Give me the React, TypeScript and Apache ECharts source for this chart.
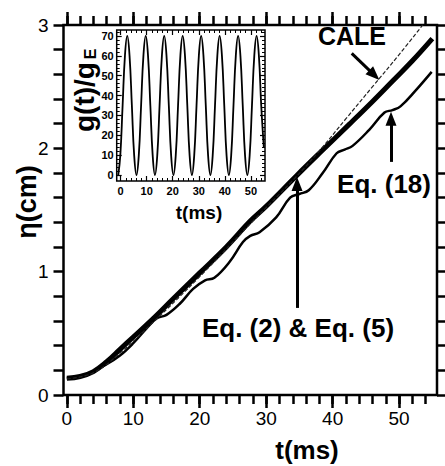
import React, { useEffect, useRef } from 'react';
import * as echarts from 'echarts';

const FONT = 'Liberation Sans, Arial, Helvetica, sans-serif';

// ---- axis ranges / tick steps ----
const mainXRange = [-0.5, 55.7];
const mainYRange = [0, 3];
const mainXMajorRange = [0, 50];
const mainXMinorRange = [0, 54];
const mainXMajorStep = 10;
const mainXMinorStep = 2;
const mainYMinorStep = 0.2;
const insetXRange = [-1.5, 55.4];
const insetYRange = [-3, 73];
const insetXMajorRange = [0, 50];
const insetXMinorRange = [0, 54];
const insetYMajorRange = [0, 70];
const insetYMinorRange = [0, 72];
const insetXMajorStep = 10;
const insetXMinorStep = 2;
const insetYMajorStep = 10;
const insetYMinorStep = 2;

// ---- main series: eta (cm) vs t (ms) ----
const eq25T = [0, 2, 4, 6, 8, 10, 13, 16, 20, 24, 27.6, 30, 34.6, 38, 42.6, 46, 49.1, 52, 55];
const eq25Eta = [0.135, 0.15, 0.19, 0.27, 0.37, 0.47, 0.62, 0.78, 0.99, 1.2, 1.41, 1.53, 1.78, 1.96, 2.2, 2.38, 2.55, 2.71, 2.89];

const caleT = [0, 4, 8, 13, 20, 28, 34, 38, 42, 46, 50, 53.7];
const caleEta = [0.13, 0.18, 0.34, 0.59, 0.96, 1.41, 1.74, 1.98, 2.24, 2.5, 2.76, 3.01];

const eq18T = [0, 3, 6, 8, 10, 12, 13.5, 15, 17, 19, 20.8, 22.2, 24.5, 26.5, 27.6, 29, 31.5, 33.6, 35, 36.4, 38.5, 40.6, 41.8, 43, 45.5, 47.8, 49, 50.2, 52.5, 54.9];
const eq18Eta = [0.135, 0.17, 0.25, 0.32, 0.42, 0.54, 0.62, 0.65, 0.74, 0.86, 0.93, 0.95, 1.08, 1.24, 1.29, 1.32, 1.44, 1.6, 1.63, 1.66, 1.8, 1.96, 1.99, 2.02, 2.15, 2.29, 2.31, 2.34, 2.47, 2.62];

// ---- inset series: g(t)/gE vs t (ms) ----
const gT = [-0.9, -0.11, 0.77, 1.66, 2.55, 3.43, 4.32, 5.2, 6.09, 6.98, 7.86, 8.75, 9.64, 10.52, 11.41, 12.3, 13.18, 14.07, 14.95, 15.84, 16.73, 17.61, 18.5, 19.38, 20.27, 21.16, 22.04, 22.93, 23.81, 24.7, 25.59, 26.47, 27.36, 28.25, 29.13, 30.02, 30.9, 31.79, 32.68, 33.56, 34.45, 35.34, 36.22, 37.11, 37.99, 38.88, 39.77, 40.65, 41.54, 42.43, 43.31, 44.2, 45.08, 45.97, 46.86, 47.74, 48.63, 49.52, 50.4, 51.29, 52.17, 53.06, 53.95, 54.95];
const gVal = [0, 10, 35, 60, 70, 60, 35, 10, 0, 10, 35, 60, 70, 60, 35, 10, 0, 10, 35, 60, 70, 60, 35, 10, 0, 10, 35, 60, 70, 60, 35, 10, 0, 10, 35, 60, 70, 60, 35, 10, 0, 10, 35, 60, 70, 60, 35, 10, 0, 10, 35, 60, 70, 60, 35, 10, 0, 10, 35, 60, 70, 60, 35, 14];

// ---- annotation arrows (data coordinates: [t, eta] start -> end) ----
const arrowCale = [[42.87, 2.77], [46.27, 2.594]];
const arrowEq18 = [[48.78, 1.89], [48.78, 2.24]];
const arrowEq25 = [[34.64, 0.706], [34.64, 1.71]];

const pairs = (xs: number[], ys: number[]) => xs.map((x, i) => [x, ys[i]]);

// main plot pixel mapping (only used to place tick-only grids)
const M_LEFT = 63.5, M_TOP = 25, M_W = 373.5, M_H = 370;
const I_LEFT = 116.7, I_TOP = 30, I_W = 148.3, I_H = 151;

function hidden(gridIndex: number) {
  return { type: 'value', gridIndex, show: false, min: 0, max: 1, axisLine: { onZero: false } };
}

function dataAxis(gridIndex: number, r: number[]) {
  return {
    type: 'value', gridIndex, min: r[0], max: r[1],
    axisLine: { show: false, onZero: false }, axisTick: { show: false }, axisLabel: { show: false }, splitLine: { show: false },
  };
}

function tickAxis(gridIndex: number, position: string, r: number[], step: number, len: number, inside: boolean, w: number, label?: any) {
  return {
    type: 'value', gridIndex, position, min: r[0], max: r[1], interval: step,
    axisLine: { show: false, onZero: false },
    axisTick: { show: true, inside, length: len, lineStyle: { color: '#000', width: w } },
    axisLabel: label ? { show: true, color: '#000', fontFamily: FONT, ...label } : { show: false },
    splitLine: { show: false },
    minorTick: { show: false },
  };
}

export default function App() {
  const ref = useRef<HTMLDivElement>(null);
  useEffect(() => {
    if (!ref.current) return;
    const chart = echarts.init(ref.current, null, { renderer: 'svg' });
    const sx = M_W / (mainXRange[1] - mainXRange[0]);
    const ix = I_W / (insetXRange[1] - insetXRange[0]);
    const iy = I_H / (insetYRange[1] - insetYRange[0]);
    const mx0 = M_LEFT + (0 - mainXRange[0]) * sx;
    const ix0 = I_LEFT + (0 - insetXRange[0]) * ix;
    const iyTopOf = (v: number) => I_TOP + (insetYRange[1] - v) * iy;
    const intLabel = (v: number) => (Math.abs(v - Math.round(v)) < 1e-6 ? String(Math.round(v)) : '');
    const insetLbl = { fontSize: 11, fontWeight: 'bold' };

    const option: any = {
      animation: false,
      backgroundColor: '#fff',
      grid: [
        // 0 main frame/data
        { left: M_LEFT, top: M_TOP, width: M_W, height: M_H, show: true, borderColor: '#000', borderWidth: 2.5, backgroundColor: 'transparent' },
        // 1 main x majors
        { left: mx0, top: M_TOP, width: (mainXMajorRange[1] - mainXMajorRange[0]) * sx, height: M_H },
        // 2 main x minors
        { left: mx0, top: M_TOP, width: (mainXMinorRange[1] - mainXMinorRange[0]) * sx, height: M_H },
        // 3 inset frame/data
        { left: I_LEFT, top: I_TOP, width: I_W, height: I_H, show: true, borderColor: '#000', borderWidth: 1.5, backgroundColor: '#fff' },
        // 4 inset x majors
        { left: ix0, top: I_TOP, width: (insetXMajorRange[1] - insetXMajorRange[0]) * ix, height: I_H },
        // 5 inset x minors
        { left: ix0, top: I_TOP, width: (insetXMinorRange[1] - insetXMinorRange[0]) * ix, height: I_H },
        // 6 inset y majors
        { left: I_LEFT, top: iyTopOf(insetYMajorRange[1]), width: I_W, height: (insetYMajorRange[1] - insetYMajorRange[0]) * iy },
        // 7 inset y minors
        { left: I_LEFT, top: iyTopOf(insetYMinorRange[1]), width: I_W, height: (insetYMinorRange[1] - insetYMinorRange[0]) * iy },
      ],
      xAxis: [
        dataAxis(0, mainXRange), // 0
        tickAxis(1, 'bottom', mainXMajorRange, mainXMajorStep, 13, false, 2.5, { fontSize: 19, margin: 14 }), // 1
        tickAxis(1, 'top', mainXMajorRange, mainXMajorStep, 13, false, 2.5), // 2
        tickAxis(2, 'bottom', mainXMinorRange, mainXMinorStep, 9, false, 2.5), // 3
        tickAxis(2, 'top', mainXMinorRange, mainXMinorStep, 9, false, 2.5), // 4
        dataAxis(3, insetXRange), // 5
        tickAxis(4, 'bottom', insetXMajorRange, insetXMajorStep, 5, true, 1.2, { ...insetLbl, margin: 4 }), // 6
        tickAxis(4, 'top', insetXMajorRange, insetXMajorStep, 5, true, 1.2), // 7
        tickAxis(5, 'bottom', insetXMinorRange, insetXMinorStep, 3, true, 1), // 8
        tickAxis(5, 'top', insetXMinorRange, insetXMinorStep, 3, true, 1), // 9
        hidden(6), // 10
        hidden(7), // 11
      ],
      yAxis: [
        { ...tickAxis(0, 'left', mainYRange, mainYMinorStep, 10, false, 2.5, { fontSize: 19, margin: 15, formatter: intLabel }) }, // 0
        tickAxis(0, 'right', mainYRange, mainYMinorStep, 10, false, 2.5), // 1
        hidden(1), // 2
        hidden(2), // 3
        dataAxis(3, insetYRange), // 4
        hidden(4), // 5
        hidden(5), // 6
        tickAxis(6, 'left', insetYMajorRange, insetYMajorStep, 5, true, 1.2, { ...insetLbl, margin: 3 }), // 7
        tickAxis(6, 'right', insetYMajorRange, insetYMajorStep, 5, true, 1.2), // 8
        tickAxis(7, 'left', insetYMinorRange, insetYMinorStep, 3, true, 1), // 9
        tickAxis(7, 'right', insetYMinorRange, insetYMinorStep, 3, true, 1), // 10
      ],
      series: [
        {
          name: 'Eq. (18)', type: 'line', xAxisIndex: 0, yAxisIndex: 0,
          data: pairs(eq18T, eq18Eta), smooth: 0.4, showSymbol: false, symbol: 'none',
          lineStyle: { color: '#000', width: 2.5 },
          markLine: {
            silent: true, symbol: ['none', 'triangle'], symbolSize: [11, 14],
            label: { show: false },
            lineStyle: { color: '#000', width: 3, type: 'solid' },
            data: [arrowCale, arrowEq18, arrowEq25].map((a) => [{ coord: a[0] }, { coord: a[1] }]),
          },
        },
        {
          name: 'Eq. (2) & Eq. (5)', type: 'line', xAxisIndex: 0, yAxisIndex: 0,
          data: pairs(eq25T, eq25Eta), smooth: 0.4, showSymbol: false, symbol: 'none',
          lineStyle: { color: '#000', width: 5 },
        },
        {
          name: 'CALE', type: 'line', xAxisIndex: 0, yAxisIndex: 0,
          data: pairs(caleT, caleEta), smooth: 0.4, showSymbol: false, symbol: 'none',
          lineStyle: { color: '#222', width: 1.2, type: [4, 2] },
        },
        {
          name: 'g(t)/gE', type: 'line', xAxisIndex: 5, yAxisIndex: 4,
          data: pairs(gT, gVal), smooth: 0.45, showSymbol: false, symbol: 'none', clip: true,
          lineStyle: { color: '#000', width: 1.8 },
        },
      ],
      graphic: [
        { type: 'text', x: 352, y: 36, style: { text: 'CALE', font: `bold 25px ${FONT}`, fill: '#000', align: 'center', verticalAlign: 'middle' } },
        { type: 'text', x: 384, y: 184, style: { text: 'Eq. (18)', font: `bold 26px ${FONT}`, fill: '#000', align: 'center', verticalAlign: 'middle' } },
        { type: 'text', x: 298, y: 328, style: { text: 'Eq. (2) & Eq. (5)', font: `bold 26px ${FONT}`, fill: '#000', align: 'center', verticalAlign: 'middle' } },
        { type: 'text', x: 307, y: 450, style: { text: 't(ms)', font: `bold 26px ${FONT}`, fill: '#000', align: 'center', verticalAlign: 'middle' } },
        { type: 'text', x: 27, y: 202, rotation: Math.PI / 2, style: { text: 'η(cm)', font: `bold 27px ${FONT}`, fill: '#000', align: 'center', verticalAlign: 'middle' } },
        { type: 'text', x: 84, y: 97, rotation: Math.PI / 2, style: { text: 'g(t)/g', font: `bold 28px ${FONT}`, fill: '#000', align: 'center', verticalAlign: 'middle' } },
        { type: 'text', x: 90, y: 54, rotation: Math.PI / 2, style: { text: 'E', font: `bold 16px ${FONT}`, fill: '#000', align: 'center', verticalAlign: 'middle' } },
        { type: 'text', x: 199, y: 212, style: { text: 't(ms)', font: `bold 19px ${FONT}`, fill: '#000', align: 'center', verticalAlign: 'middle' } },
      ],
    };
    chart.setOption(option);
    return () => chart.dispose();
  }, []);
  return <div ref={ref} style={{ position: 'fixed', left: 0, top: 0, width: 445, height: 466 }} />;
}
